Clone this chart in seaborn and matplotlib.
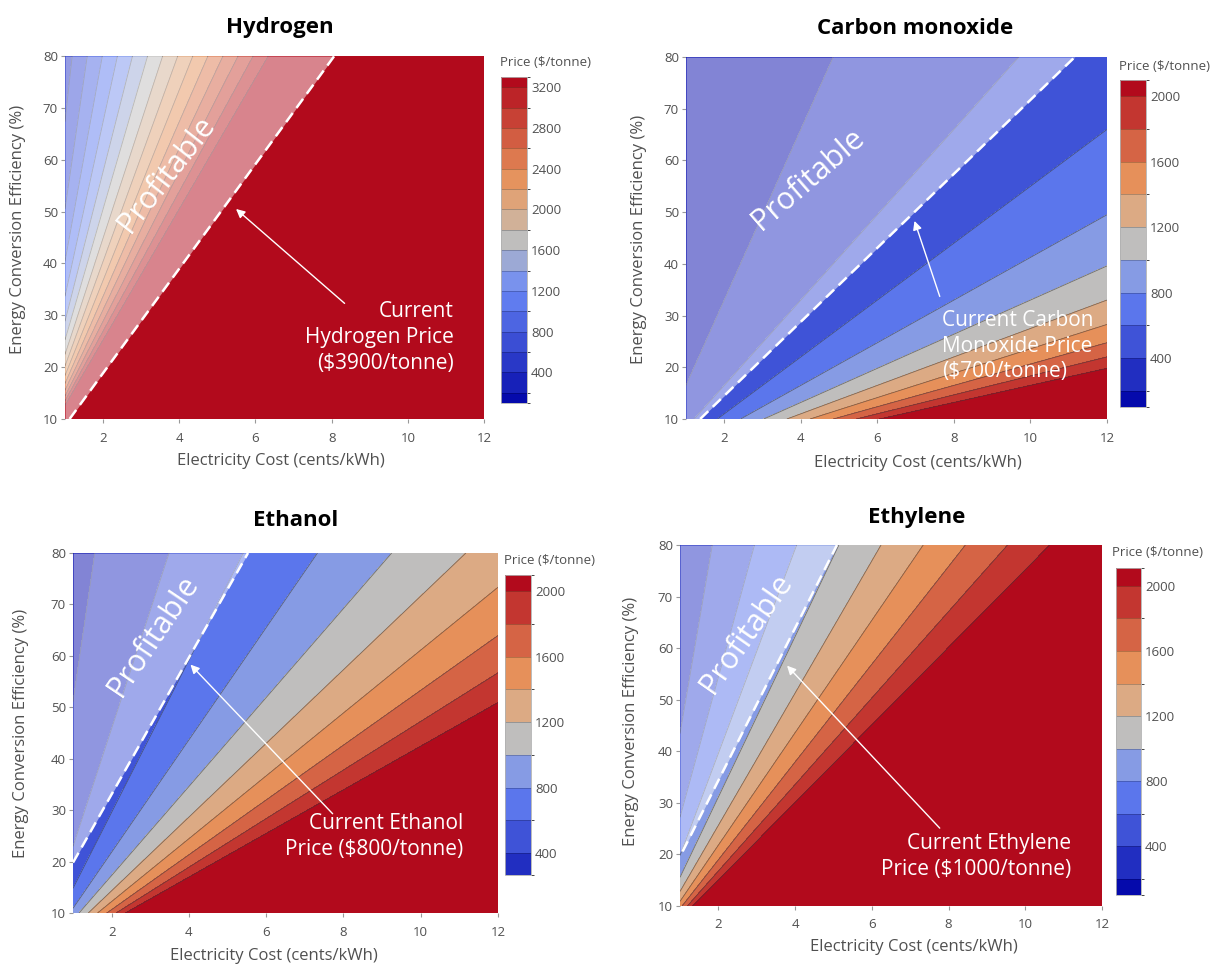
import numpy as np
import matplotlib
matplotlib.use("Agg")
import matplotlib.pyplot as plt
import seaborn as sns
from matplotlib.colors import LinearSegmentedColormap, ListedColormap, BoundaryNorm
from matplotlib.cm import ScalarMappable

# ---- values ----
products = ["Hydrogen", "Carbon monoxide", "Ethanol", "Ethylene"]
# price ($/tonne) = fixed + energy (kWh/tonne) * electricity cost / efficiency
energy_kwh_per_tonne = [40400, 3300, 8330, 14550]
fixed_cost = [0, 0, 37, 65]
current_price = [3900, 700, 800, 1000]
note_prefix = ["Current\nHydrogen Price\n", "Current Carbon\nMonoxide Price\n",
               "Current Ethanol\nPrice ", "Current Ethylene\nPrice "]
level_step = 200
level_top = [3200, 2000, 2000, 2000]
cbar_low = [100, 100, 265, 100]
cbar_high = [3300, 2100, 2100, 2110]
cbar_tick_top = [3200, 2000, 2000, 2000]
# dashed "current price" lines as drawn in the figure
breakeven_cost = [[1.12, 8.07], [1.37, 11.16], [1.0, 5.53], [1.07, 5.09]]
breakeven_eff = [[10, 80], [10, 80], [19.8, 80], [20.6, 80]]

elec_cost = np.linspace(1, 12, 400)
efficiency = np.linspace(10, 80, 400)

# ---- layout (pixels in a 1215x965 canvas) ----
W, H = 1215, 965
axes_px = [(65, 56, 484, 419), (686, 57, 1107, 419), (73, 553, 498, 913), (680, 545, 1102, 906)]
cbar_px = [(501, 77, 527, 403), (1120, 80, 1146, 407), (505, 575, 531, 875), (1116, 568, 1141, 895)]
title_px = [(280, 28), (915, 28), (296, 520), (917, 518)]
xlabel_px = [(281, 461), (918, 463), (274, 956), (914, 947)]
ylabel_px = [(18, 229), (639, 239), (21, 733), (631, 721)]
cbtitle_px = [(500, 63), (1119, 66), (504, 560), (1112, 553)]
profit_pos = [(3.66, 57.2, 52), (4.18, 56.3, 41), (3.08, 63.9, 56), (2.73, 62.8, 55)]
arrow_tail = [(8.34, 32.3), (7.63, 33.7), (7.72, 29.3), (7.77, 25.1)]
arrow_head = [(5.49, 50.5), (6.97, 48.3), (4.04, 58.3), (3.79, 56.6)]
note_pos = [(11.2, 25.7, "right"), (7.7, 24.1, "left"), (11.1, 24.8, "right"), (11.2, 19.6, "right")]

sns.set_style("white")
plt.rcParams["font.family"] = ["Open Sans", "DejaVu Sans"]

# plotly-style RdBu scale
scale = LinearSegmentedColormap.from_list("rdbu_plotly", [
    (0.0, (5/255, 10/255, 172/255)),
    (0.35, (106/255, 137/255, 247/255)),
    (0.5, (190/255, 190/255, 190/255)),
    (0.6, (220/255, 170/255, 132/255)),
    (0.7, (230/255, 145/255, 90/255)),
    (1.0, (178/255, 10/255, 28/255)),
])

grey = "#505050"


def rect(l, t, r, b):
    return [l / W, 1 - b / H, (r - l) / W, (b - t) / H]


fig = plt.figure(figsize=(W / 100, H / 100), dpi=100)

for i, name in enumerate(products):
    ax = fig.add_axes(rect(*axes_px[i]))
    C, E = np.meshgrid(elec_cost, efficiency)
    price = fixed_cost[i] + energy_kwh_per_tonne[i] * C / E

    levels = np.arange(level_step, level_top[i] + 1, level_step)
    n = len(levels) + 1
    colors = [scale(k / (n - 1)) for k in range(n)]

    ax.contourf(C, E, price, levels=levels, colors=colors, extend="both", zorder=1)
    ax.contour(C, E, price, levels=levels, colors="#3a3a3a", linewidths=0.6,
               alpha=0.6, zorder=1.5)

    # profitable region: white veil left of the dashed line
    ax.fill_betweenx(breakeven_eff[i], 1, breakeven_cost[i], color="white",
                     alpha=0.5, lw=0, zorder=2)
    ax.plot(breakeven_cost[i], breakeven_eff[i], color="white", lw=1.8,
            ls=(0, (4.5, 2.5)), zorder=3)

    px, py, ang = profit_pos[i]
    ax.text(px, py, "Profitable", color="white", fontsize=22, rotation=ang,
            rotation_mode="anchor", ha="center", va="center", zorder=4)

    ax.annotate("", xy=arrow_head[i], xytext=arrow_tail[i], zorder=4,
                arrowprops=dict(arrowstyle="-|>", color="white", lw=1.0,
                                mutation_scale=13, shrinkA=0, shrinkB=0))
    nx, ny, ha = note_pos[i]
    ax.text(nx, ny, f"{note_prefix[i]}(${current_price[i]}/tonne)", color="white",
            fontsize=15, ha=ha, va="center", linespacing=1.3, zorder=4)

    ax.set_xlim(1, 12)
    ax.set_ylim(10, 80)
    ax.set_xticks(range(2, 13, 2))
    ax.set_yticks(range(10, 81, 10))
    ax.tick_params(axis="both", which="both", length=3, width=0.8, color="#999999",
                   labelsize=9.5, labelcolor=grey, pad=2, direction="out",
                   left=True, bottom=True)
    ax.tick_params(axis="x", pad=6)
    sns.despine(ax=ax, left=True, bottom=True)
    ax.set_xlabel("")
    ax.set_ylabel("")

    tx, ty = title_px[i]
    fig.text(tx / W, 1 - ty / H, name, fontsize=16, fontweight="bold",
             ha="center", va="center", color="black")
    lx, ly = xlabel_px[i]
    fig.text(lx / W, 1 - ly / H, "Electricity Cost (cents/kWh)", fontsize=12,
             ha="center", va="center", color=grey)
    yx, yy = ylabel_px[i]
    fig.text(yx / W, 1 - yy / H, "Energy Conversion Efficiency (%)", fontsize=12,
             ha="center", va="center", rotation=90, color=grey)

    # colour bar: only the bands that lie inside the bar's range
    cax = fig.add_axes(rect(*cbar_px[i]))
    inner = [lv for lv in levels if cbar_low[i] < lv < cbar_high[i]]
    bounds = [cbar_low[i]] + inner + [cbar_high[i]]
    first = int(np.searchsorted(levels, cbar_low[i], side="right"))
    band_colors = colors[first:first + len(bounds) - 1]
    sm = ScalarMappable(norm=BoundaryNorm(bounds, len(band_colors)),
                        cmap=ListedColormap(band_colors))
    cb = fig.colorbar(sm, cax=cax, spacing="proportional", drawedges=True,
                      ticks=range(400, cbar_tick_top[i] + 1, 400))
    cb.outline.set_edgecolor("#b0b0b0")
    cb.outline.set_linewidth(0.6)
    cb.dividers.set_color((0, 0, 0, 0.25))
    cb.dividers.set_linewidth(0.6)
    cax.tick_params(length=0, labelsize=9.5, labelcolor=grey, pad=3)
    bx, by = cbtitle_px[i]
    fig.text(bx / W, 1 - by / H, "Price ($/tonne)", fontsize=9.5, ha="left",
             va="center", color=grey)

fig.savefig("out.png", dpi=100)
